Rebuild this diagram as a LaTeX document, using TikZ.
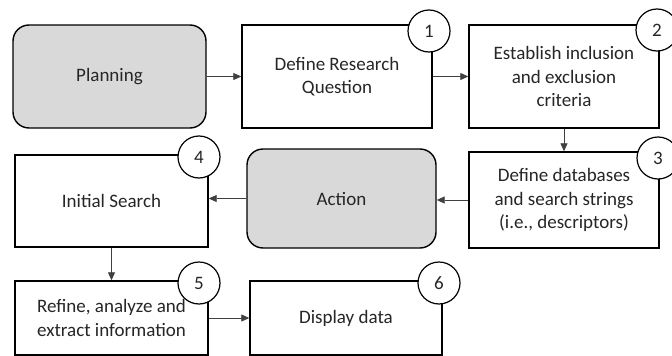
\documentclass[tikz,border=0pt]{standalone}
\usepackage{fontspec}
\setmainfont{Carlito}
\usetikzlibrary{arrows.meta}

\begin{document}
\begin{tikzpicture}[x=1pt, y=-1pt,
    stepbox/.style={draw=black, line width=1.4pt, fill=white, align=center,
      inner sep=0pt, text=black!85},
    phasebox/.style={stepbox, fill=phasefill, rounded corners=16pt},
    numcircle/.style={circle, draw=black, line width=1.2pt, fill=white,
      minimum size=42pt, inner sep=0pt, text=black!85},
    flow/.style={-{Triangle[length=8pt, width=7pt]}, draw=black!75, line width=0.8pt}]
  \colorlet{phasefill}{black!15}
  \useasboundingbox (0,0) rectangle (672,356);
  \fontsize{19}{23.5}\selectfont

  % Phase boxes
  \node[phasebox, minimum width=193pt, minimum height=103pt] (plan) at (109.5,76.5) {Planning};
  \node[phasebox, minimum width=189pt, minimum height=99pt] (act) at (341.5,198.5) {Action};

  % Step boxes
  \node[stepbox, minimum width=190pt, minimum height=103pt] (question) at (337,76.5) {Define Research\\Question};
  \node[stepbox, minimum width=190pt, minimum height=103pt] (criteria) at (564,76.5) {Establish inclusion\\and exclusion\\criteria};
  \node[stepbox, minimum width=190pt, minimum height=96pt] (databases) at (564,200) {Define databases\\and search strings\\(i.e., descriptors)};
  \node[stepbox, minimum width=193pt, minimum height=92pt] (search) at (111.5,201) {Initial Search};
  \node[stepbox, minimum width=193pt, minimum height=74pt] (refine) at (111.5,318) {Refine, analyze and\\extract information};
  \node[stepbox, minimum width=192pt, minimum height=74pt] (display) at (346,318) {Display data};

  % Step numbers
  \node[numcircle] (n1) at (429,31) {1};
  \node[numcircle] (n2) at (657,30) {2};
  \node[numcircle] (n3) at (658,158) {3};
  \node[numcircle] (n4) at (199,157) {4};
  \node[numcircle] (n5) at (199,283) {5};
  \node[numcircle] (n6) at (439,283) {6};

  % Flow between boxes
  \draw[flow] (plan.east) -- (plan.east -| question.west);
  \draw[flow] (question.east) -- (question.east -| criteria.west);
  \draw[flow] (criteria.south) -- (databases.north);
  \draw[flow] (databases.west) -- (databases.west -| act.east);
  \draw[flow] (act.west) -- (act.west -| search.east);
  \draw[flow] (search.south) -- (refine.north);
  \draw[flow] (refine.east) -- (refine.east -| display.west);
\end{tikzpicture}
\end{document}
